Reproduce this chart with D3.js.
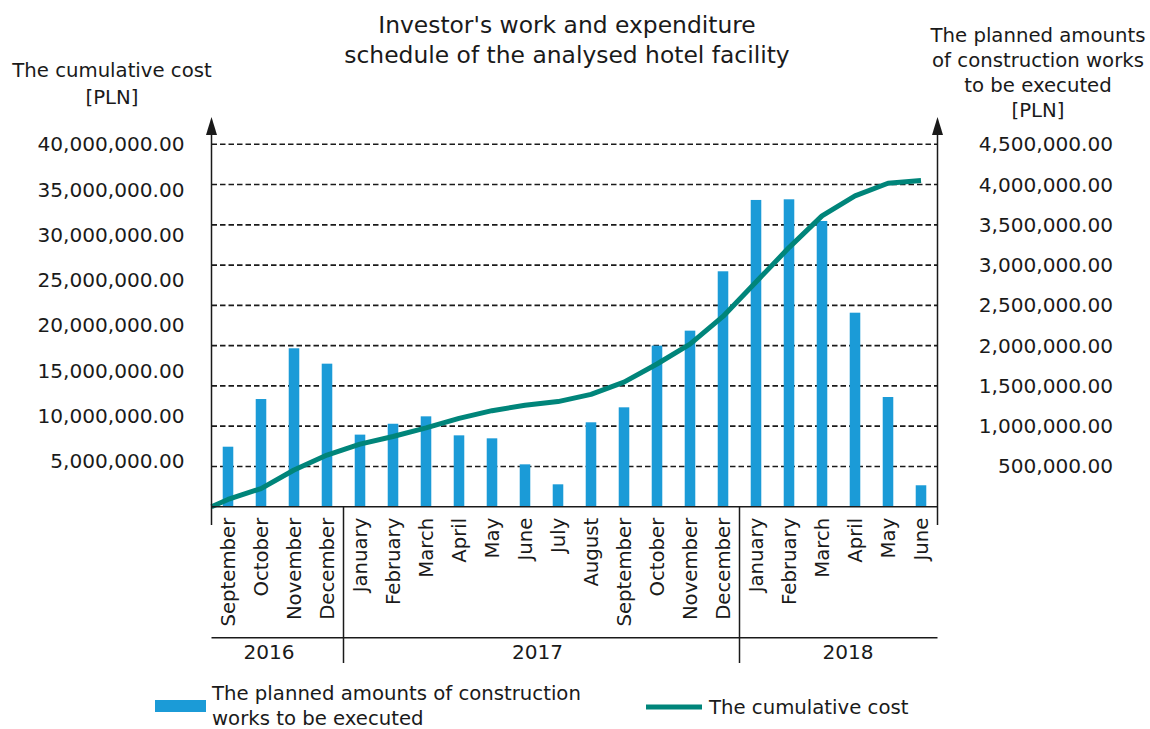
<!DOCTYPE html>
<html>
<head>
<meta charset="utf-8">
<script src="https://cdn.jsdelivr.net/npm/d3@7"></script>
<style>
  html, body { margin: 0; padding: 0; background: #fff; }
  svg { display: block; font-family: "DejaVu Sans", Verdana, sans-serif; }
</style>
</head>
<body>
<svg id="chart" width="1150" height="729"></svg>
<script>
// ---------- data ----------
const monthLabels = ["September","October","November","December",
  "January","February","March","April","May","June","July","August","September","October","November","December",
  "January","February","March","April","May","June"];
const monthYears = ["2016","2016","2016","2016",
  "2017","2017","2017","2017","2017","2017","2017","2017","2017","2017","2017","2017",
  "2018","2018","2018","2018","2018","2018"];
const yearLabels = ["2016","2017","2018"];
// planned amounts of construction works to be executed [PLN] (right axis)
const plannedWorks = [745000, 1337000, 1967000, 1776000,
  895000, 1030000, 1122000, 886000, 849000, 526000, 278000, 1048000, 1234000, 2000000, 2186000, 2923000,
  3809000, 3817000, 3548000, 2409000, 1362000, 266000];
// cumulative cost [PLN] (left axis)
const cumulativeStart = 0;
const cumulativeCost = [800000, 2000000, 4050000, 5700000,
  6900000, 7750000, 8700000, 9750000, 10600000, 11200000, 11600000, 12400000, 13750000, 15750000, 17950000, 21000000,
  24800000, 28600000, 32100000, 34300000, 35700000, 36000000];
const leftTicks = [5000000, 10000000, 15000000, 20000000, 25000000, 30000000, 35000000, 40000000];
const rightTicks = [500000, 1000000, 1500000, 2000000, 2500000, 3000000, 3500000, 4000000, 4500000];
const leftDomain = [0, 40000000];
const rightDomain = [0, 4500000];

// ---------- layout ----------
const X0 = 211.5, X1 = 937.5, Y0 = 506.7, YT = 144.3;
const YEAR_ROW = 637.7, YEAR_SEP_BOTTOM = 663, AXIS_BOTTOM = 525, ARROW_TIP = 117;
const BAR_COLOR = "#1b9bd7", LINE_COLOR = "#00857a", INK = "#1a1a1a";
const FONT = 19.7, TICK_FONT = 20.1;

const svg = d3.select("#chart");
const keys = monthLabels.map((m, i) => i);
const x = d3.scaleBand().domain(keys).range([X0, X1]).padding(0);
const yL = d3.scaleLinear().domain(leftDomain).range([Y0, YT]);
const yR = d3.scaleLinear().domain(rightDomain).range([Y0, YT]);
const fmt = d3.format(",.2f");

// gridlines (right axis ticks)
svg.append("g").selectAll("line").data(rightTicks).join("line")
  .attr("x1", X0).attr("x2", X1)
  .attr("y1", d => yR(d)).attr("y2", d => yR(d))
  .attr("stroke", "#1a1a1a").attr("stroke-width", 1.6).attr("stroke-dasharray", "5.5,3");

// bars
const bw = x.bandwidth() * 0.32;
svg.append("g").selectAll("rect").data(plannedWorks).join("rect")
  .attr("x", (d, i) => x(i) + (x.bandwidth() - bw) / 2)
  .attr("width", bw)
  .attr("y", d => yR(d))
  .attr("height", d => Y0 - yR(d))
  .attr("fill", BAR_COLOR);

// cumulative line
const linePts = [[X0, yL(cumulativeStart)]].concat(
  cumulativeCost.map((d, i) => [x(i) + x.bandwidth() / 2, yL(d)]));
svg.append("path").attr("d", d3.line()(linePts))
  .attr("fill", "none").attr("stroke", LINE_COLOR).attr("stroke-width", 5)
  .attr("stroke-linejoin", "round");

// axes lines + arrows
[X0, X1].forEach(ax => {
  svg.append("line").attr("x1", ax).attr("x2", ax).attr("y1", AXIS_BOTTOM).attr("y2", ARROW_TIP + 10)
    .attr("stroke", INK).attr("stroke-width", 1.5);
  svg.append("path").attr("d", `M${ax},${ARROW_TIP} L${ax - 5.5},${ARROW_TIP + 18} L${ax + 5.5},${ARROW_TIP + 18} Z`)
    .attr("fill", INK);
});
svg.append("line").attr("x1", X0).attr("x2", X1).attr("y1", Y0).attr("y2", Y0)
  .attr("stroke", INK).attr("stroke-width", 1.5);

// left axis ticks
const gl = svg.append("g").attr("transform", `translate(${X0},0)`)
  .call(d3.axisLeft(yL).tickValues(leftTicks).tickSize(0).tickPadding(27).tickFormat(fmt));
gl.select(".domain").remove();
gl.selectAll("text").attr("font-size", TICK_FONT).attr("font-family", "DejaVu Sans").attr("fill", INK);

// right axis ticks
const gr = svg.append("g").attr("transform", `translate(${X1},0)`)
  .call(d3.axisRight(yR).tickValues(rightTicks).tickSize(0).tickFormat(fmt));
gr.select(".domain").remove();
gr.selectAll("text").attr("font-size", TICK_FONT).attr("font-family", "DejaVu Sans").attr("fill", INK)
  .attr("text-anchor", "end").attr("x", 175.5);

// bottom axis (months)
const gb = svg.append("g").attr("transform", `translate(0,${Y0})`)
  .call(d3.axisBottom(x).tickSize(0).tickFormat(i => monthLabels[i]));
gb.select(".domain").remove();
gb.selectAll("text").attr("font-size", FONT).attr("font-family", "DejaVu Sans").attr("fill", INK)
  .attr("text-anchor", "end").attr("transform", "rotate(-90)")
  .attr("x", -11).attr("y", 0).attr("dy", "0.36em");

// year row
svg.append("line").attr("x1", X0).attr("x2", X1).attr("y1", YEAR_ROW).attr("y2", YEAR_ROW)
  .attr("stroke", INK).attr("stroke-width", 1.5);
const yearOffsets = {"2016": -8.5, "2017": -4, "2018": 9.5};
yearLabels.forEach((yr, k) => {
  const idx = monthYears.map((m, i) => m === yr ? i : -1).filter(i => i >= 0);
  const a = x(idx[0]), b = x(idx[idx.length - 1]) + x.bandwidth();
  if (k > 0) {
    svg.append("line").attr("x1", a).attr("x2", a).attr("y1", Y0).attr("y2", YEAR_SEP_BOTTOM)
      .attr("stroke", INK).attr("stroke-width", 1.5);
  }
  svg.append("text").attr("x", (a + b) / 2 + yearOffsets[yr]).attr("y", 651.7).attr("dy", "0.36em")
    .attr("text-anchor", "middle").attr("font-size", TICK_FONT).attr("fill", INK).text(yr);
});

// titles
function lines(xc, ys, arr, size) {
  arr.forEach((t, i) => svg.append("text").attr("x", xc).attr("y", ys[i]).attr("dy", "0.36em")
    .attr("text-anchor", "middle").attr("font-size", size).attr("fill", INK).text(t));
}
lines(567, [25, 55], ["Investor's work and expenditure", "schedule of the analysed hotel facility"], 23.4);
lines(112, [70, 97], ["The cumulative cost", "[PLN]"], FONT);
lines(1038, [34.5, 60, 85, 110], ["The planned amounts", "of construction works", "to be executed", "[PLN]"], FONT);

// legend
svg.append("rect").attr("x", 155).attr("y", 700).attr("width", 51).attr("height", 12).attr("fill", BAR_COLOR);
[["The planned amounts of construction", 693], ["works to be executed", 717.5]].forEach(([t, yy]) =>
  svg.append("text").attr("x", 212).attr("y", yy).attr("dy", "0.36em").attr("font-size", FONT).attr("fill", INK).text(t));
svg.append("line").attr("x1", 646).attr("x2", 702).attr("y1", 707).attr("y2", 707)
  .attr("stroke", LINE_COLOR).attr("stroke-width", 5);
svg.append("text").attr("x", 709).attr("y", 707).attr("dy", "0.36em").attr("font-size", FONT).attr("fill", INK)
  .text("The cumulative cost");
</script>
</body>
</html>
